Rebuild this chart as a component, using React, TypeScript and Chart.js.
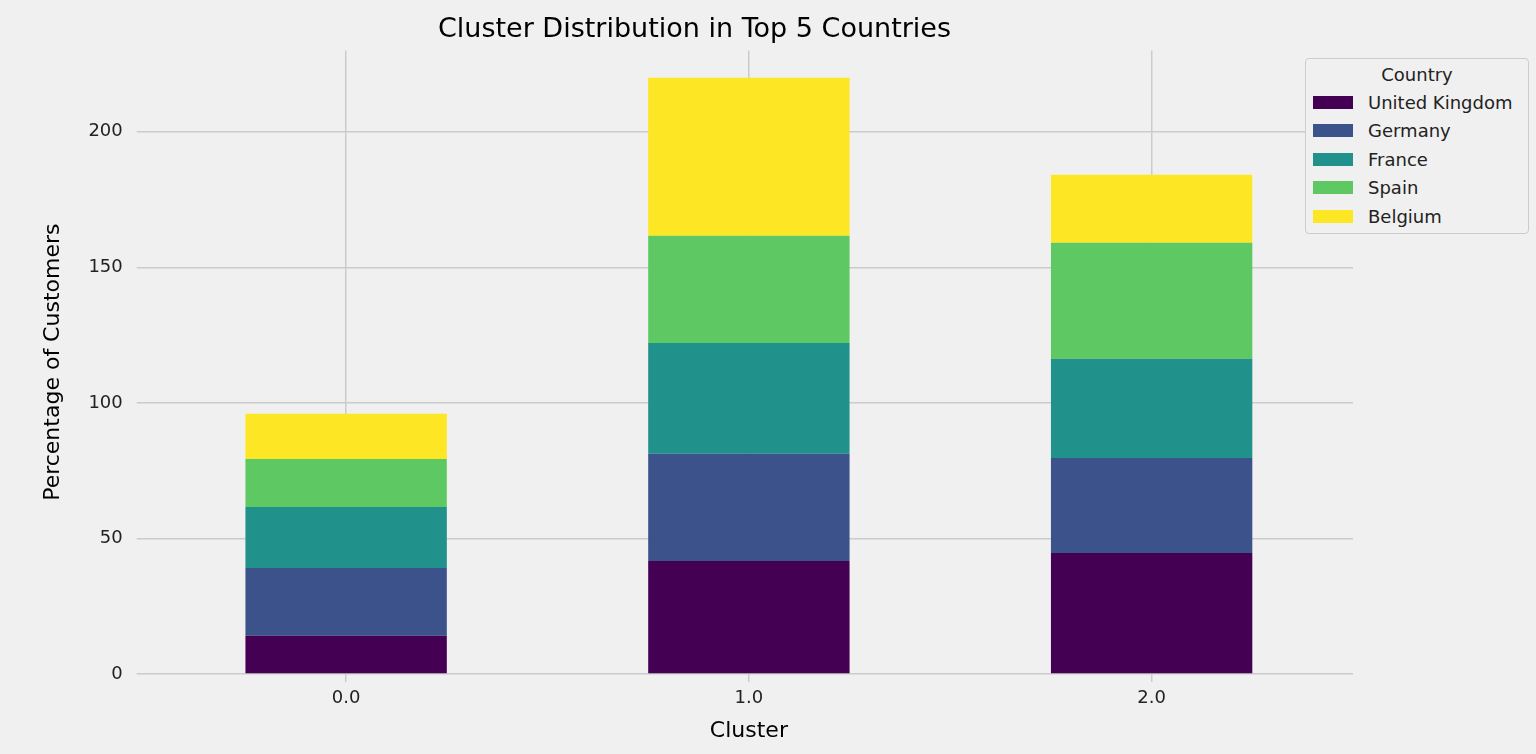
import React, { useEffect, useRef } from "react";
import { Chart, registerables } from "chart.js";

Chart.register(...registerables);

const clusters = ["0.0", "1.0", "2.0"];
const countries = ["United Kingdom", "Germany", "France", "Spain", "Belgium"];
const colors = ["#440154", "#3b528b", "#21918c", "#5ec962", "#fde725"];
const ukValues = [14.1, 41.7, 44.6];
const germanyValues = [25.0, 39.5, 35.1];
const franceValues = [22.5, 40.9, 36.6];
const spainValues = [17.7, 39.5, 42.8];
const belgiumValues = [16.7, 58.3, 25.0];
const seriesValues = [ukValues, germanyValues, franceValues, spainValues, belgiumValues];

const FONT = "'DejaVu Sans', sans-serif";

const App = () => {
  const chartRef = useRef<HTMLCanvasElement | null>(null);

  useEffect(() => {
    document.body.style.margin = "0";
    document.body.style.background = "#f0f0f0";
    const ctx = chartRef.current;
    if (!ctx) return;
    const chart = new Chart(ctx, {
      type: "bar",
      data: {
        labels: clusters,
        datasets: countries.map((name, i) => ({
          label: name,
          data: seriesValues[i],
          backgroundColor: colors[i],
          categoryPercentage: 1,
          barPercentage: 0.5,
        })),
      },
      options: {
        responsive: true,
        maintainAspectRatio: false,
        animation: false,
        layout: { padding: { left: 36, right: 183, top: 8, bottom: 6 } },
        scales: {
          x: {
            stacked: true,
            grid: { offset: false, color: "#cbcbcb", lineWidth: 1.5 },
            border: { display: false },
            ticks: { color: "#222", font: { family: FONT, size: 18 }, padding: 6 },
            title: { display: true, text: "Cluster", color: "#000", font: { family: FONT, size: 22 }, padding: { top: 2 } },
          },
          y: {
            stacked: true,
            min: 0,
            max: 230,
            afterBuildTicks: (axis: any) => {
              axis.ticks = [0, 50, 100, 150, 200].map((v) => ({ value: v }));
            },
            grid: { color: "#cbcbcb", lineWidth: 1.5 },
            border: { display: false },
            ticks: { color: "#222", font: { family: FONT, size: 18 }, padding: 14 },
            title: { display: true, text: "Percentage of Customers", color: "#000", font: { family: FONT, size: 22 }, padding: { bottom: 8 } },
          },
        },
        plugins: {
          legend: { display: false },
          tooltip: { enabled: false },
          title: {
            display: true,
            text: "Cluster Distribution in Top 5 Countries",
            color: "#000",
            font: { family: FONT, size: 27, weight: "normal" },
            padding: { top: 6, bottom: 4 },
          },
        },
      },
    });
    return () => chart.destroy();
  }, []);

  return (
    <div style={{ position: "relative", width: 1536, height: 754, background: "#f0f0f0" }}>
      <canvas ref={chartRef} />
      <div
        style={{
          position: "absolute",
          left: 1305,
          top: 58,
          width: 224,
          height: 176,
          border: "1px solid #cccccc",
          borderRadius: 4,
          background: "#f0f0f0",
          fontFamily: FONT,
          fontSize: 18,
          color: "#222",
          boxSizing: "border-box",
        }}
      >
        <div style={{ textAlign: "center", marginTop: 5, height: 24 }}>Country</div>
        {countries.map((name, i) => (
          <div key={name} style={{ display: "flex", alignItems: "center", height: 28.5, paddingLeft: 7 }}>
            <span style={{ width: 40, height: 13, background: colors[i], display: "inline-block", marginRight: 15 }} />
            <span>{name}</span>
          </div>
        ))}
      </div>
    </div>
  );
};

export default App;
